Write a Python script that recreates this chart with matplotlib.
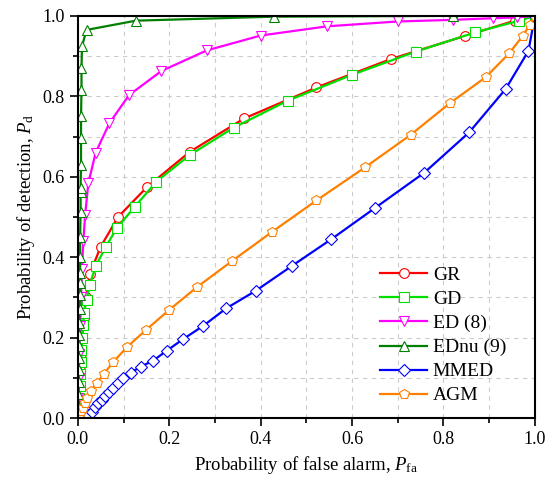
import matplotlib
matplotlib.use('Agg')
import matplotlib.pyplot as plt
from matplotlib.ticker import MultipleLocator

plt.rcParams['font.family'] = ['Liberation Serif', 'DejaVu Serif']
plt.rcParams['mathtext.fontset'] = 'custom'
plt.rcParams['mathtext.it'] = 'Liberation Serif:italic'
plt.rcParams['mathtext.rm'] = 'Liberation Serif'

# ROC curves
gr_pfa = [0, 0.001, 0.002, 0.004, 0.006, 0.009, 0.013, 0.018, 0.026, 0.05, 0.088,
          0.152, 0.245, 0.364, 0.522, 0.686, 0.847, 0.956, 1.0]
gr_pd = [0, 0.04, 0.08, 0.12, 0.16, 0.20, 0.25, 0.30, 0.358, 0.426, 0.50,
         0.575, 0.662, 0.745, 0.822, 0.893, 0.95, 0.988, 1.0]

gd_pfa = [0, 0.002, 0.003, 0.004, 0.005, 0.007, 0.008, 0.010, 0.012, 0.013, 0.019,
          0.026, 0.039, 0.061, 0.085, 0.125, 0.172, 0.245, 0.341, 0.459, 0.599,
          0.739, 0.87, 0.966, 1.0]
gd_pd = [0, 0.025, 0.05, 0.08, 0.11, 0.14, 0.17, 0.20, 0.231, 0.26, 0.294,
         0.331, 0.378, 0.425, 0.472, 0.526, 0.588, 0.654, 0.722, 0.789, 0.853,
         0.911, 0.959, 0.988, 1.0]

ed_pfa = [0, 0.001, 0.002, 0.003, 0.005, 0.007, 0.009, 0.012, 0.016, 0.023, 0.039,
          0.069, 0.112, 0.183, 0.282, 0.40, 0.546, 0.70, 0.82, 0.908, 0.96, 1.0]
ed_pd = [0, 0.05, 0.10, 0.16, 0.23, 0.30, 0.37, 0.44, 0.505, 0.584, 0.66,
         0.733, 0.803, 0.863, 0.914, 0.951, 0.974, 0.986, 0.99, 0.994, 0.996, 1.0]

ednu_pfa = [0, 0.001, 0.001, 0.002, 0.002, 0.002, 0.003, 0.003, 0.003, 0.004, 0.004,
            0.004, 0.005, 0.005, 0.005, 0.006, 0.006, 0.006, 0.007, 0.007, 0.007,
            0.008, 0.008, 0.009, 0.019, 0.127, 0.43, 0.82, 1.0]
ednu_pd = [0, 0.03, 0.06, 0.09, 0.12, 0.15, 0.18, 0.206, 0.236, 0.27, 0.306,
           0.335, 0.36, 0.40, 0.45, 0.513, 0.563, 0.572, 0.629, 0.696, 0.75,
           0.816, 0.87, 0.924, 0.965, 0.988, 0.998, 1.0, 1.0]

mmed_pfa = [0.015, 0.023, 0.03, 0.037, 0.044, 0.052, 0.059, 0.069, 0.077, 0.088, 0.099,
            0.116, 0.138, 0.165, 0.194, 0.23, 0.274, 0.325, 0.39, 0.468, 0.555,
            0.651, 0.758, 0.856, 0.936, 0.986, 1.0]
mmed_pd = [0, 0.007, 0.016, 0.027, 0.037, 0.046, 0.055, 0.065, 0.076, 0.086, 0.10,
           0.113, 0.128, 0.143, 0.167, 0.196, 0.229, 0.273, 0.317, 0.378, 0.445,
           0.523, 0.61, 0.71, 0.818, 0.913, 1.0]

agm_pfa = [0, 0.003, 0.005, 0.008, 0.012, 0.015, 0.02, 0.028, 0.041, 0.057, 0.077,
           0.108, 0.149, 0.2, 0.26, 0.338, 0.425, 0.522, 0.628, 0.728, 0.814,
           0.892, 0.944, 0.974, 0.989, 1.0]
agm_pd = [0, 0.005, 0.012, 0.018, 0.025, 0.037, 0.049, 0.067, 0.086, 0.11, 0.139,
          0.177, 0.219, 0.269, 0.325, 0.391, 0.463, 0.541, 0.623, 0.704, 0.783,
          0.847, 0.907, 0.951, 0.978, 1.0]

series = [
    ('GR', gr_pfa, gr_pd, '#FF0000', 'o'),
    ('GD', gd_pfa, gd_pd, '#00E000', 's'),
    ('ED (8)', ed_pfa, ed_pd, '#FF00FF', 'v'),
    ('EDnu (9)', ednu_pfa, ednu_pd, '#008000', '^'),
    ('MMED', mmed_pfa, mmed_pd, '#0000FF', 'D'),
    ('AGM', agm_pfa, agm_pd, '#FF8000', 'p'),
]

fig = plt.figure(figsize=(5.56, 4.8), dpi=100)
ax = fig.add_axes([0.140, 0.129, 0.822, 0.838])

for name, x, y, c, m in series:
    ms = 6 if m == 'D' else 7
    ax.plot(x, y, color=c, lw=1.6, marker=m, ms=ms, mfc='white',
            mec=c, mew=0.8, label=name)

ax.set_xlim(0, 1)
ax.set_ylim(0, 1)
ax.xaxis.set_major_locator(MultipleLocator(0.2))
ax.yaxis.set_major_locator(MultipleLocator(0.2))
ax.xaxis.set_minor_locator(MultipleLocator(0.1))
ax.yaxis.set_minor_locator(MultipleLocator(0.1))
ax.grid(which='both', ls=(0, (4, 4)), color='#cccccc', lw=0.8)
ax.set_axisbelow(True)
ax.tick_params(which='both', direction='out', labelsize=13, width=1.2)
ax.tick_params(which='major', length=6)
ax.tick_params(which='minor', length=3.5)
for s in ax.spines.values():
    s.set_linewidth(1.5)

ax.set_xlabel(r'Probability of false alarm, $P_{\mathrm{fa}}$', fontsize=13.5)
ax.set_ylabel(r'Probability of detection, $P_{\mathrm{d}}$', fontsize=13.5)

ax.legend(loc='lower right', frameon=False, fontsize=14, handlelength=2.4,
          handletextpad=0.3, borderaxespad=0.3, labelspacing=0.33,
          bbox_to_anchor=(0.967, 0.0))

fig.savefig('out.png', dpi=100)
